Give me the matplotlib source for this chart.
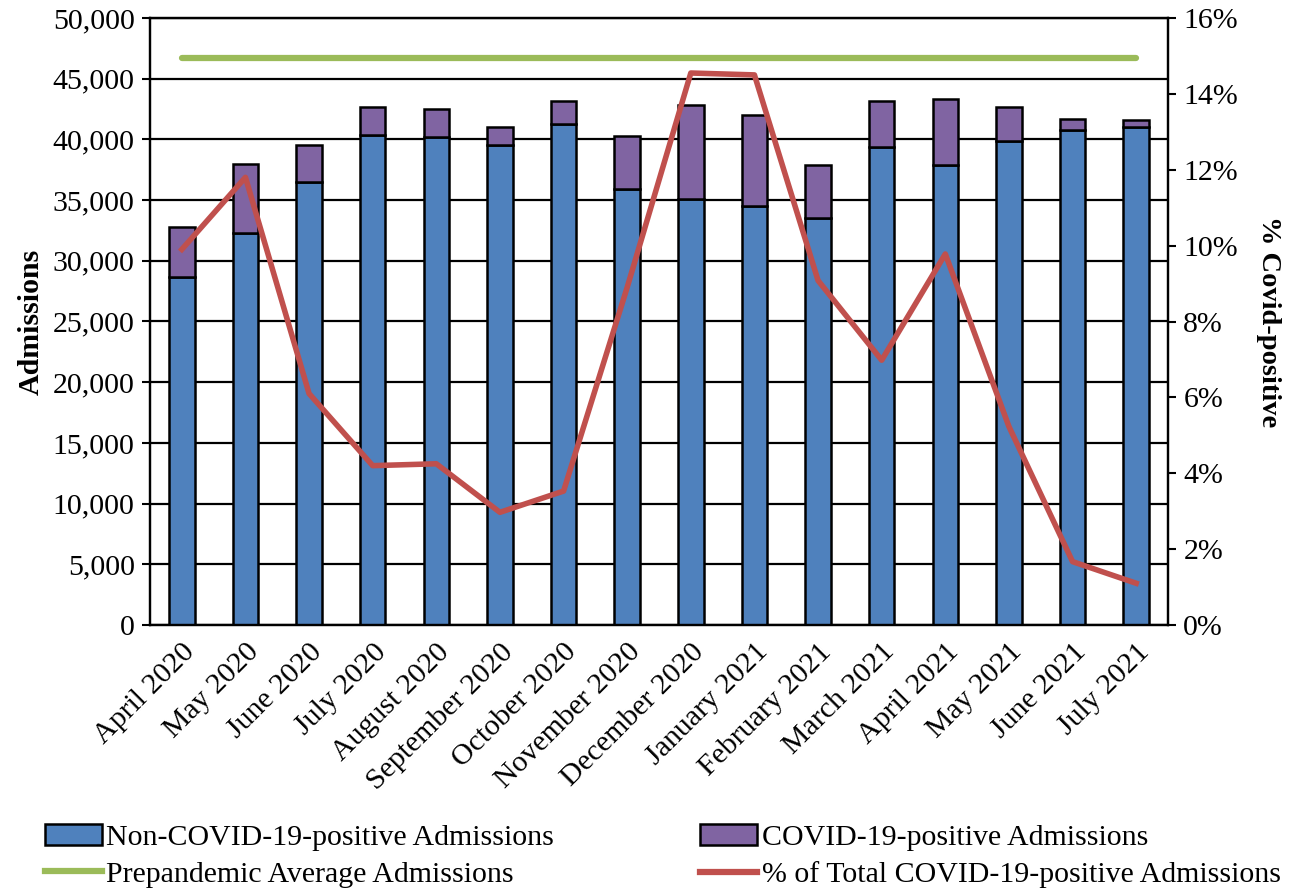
import matplotlib
matplotlib.use("Agg")
import matplotlib.pyplot as plt
from matplotlib.ticker import FuncFormatter, MultipleLocator
from matplotlib.patches import Patch
from matplotlib.lines import Line2D

plt.rcParams['font.family'] = ['Liberation Serif', 'DejaVu Serif']

months = ["April 2020", "May 2020", "June 2020", "July 2020", "August 2020",
          "September 2020", "October 2020", "November 2020", "December 2020",
          "January 2021", "February 2021", "March 2021", "April 2021",
          "May 2021", "June 2021", "July 2021"]
# 非新冠入院 / 总入院
non_covid = [28700, 32300, 36500, 40400, 40200, 39500, 41300, 35900,
             35100, 34500, 33550, 39400, 37900, 39900, 40800, 41050]
total = [32800, 37950, 39500, 42700, 42500, 41000, 43200, 40300,
         42800, 42000, 37900, 43200, 43300, 42700, 41700, 41600]
covid = [t - n for t, n in zip(total, non_covid)]
prepandemic = [46700] * len(months)
pct_covid = [9.9, 11.8, 6.1, 4.2, 4.25, 2.97, 3.53, 8.9,
             14.55, 14.5, 9.08, 6.98, 9.78, 5.23, 1.67, 1.1]

blue = '#4F81BD'
purple = '#8064A2'
green = '#9BBB59'
red = '#C0504D'
fs = 21.5

fig = plt.figure(figsize=(12.97, 8.92), dpi=100)
ax = fig.add_axes([150/1297, 1-625/892, (1168-150)/1297, (625-18)/892])
x = list(range(len(months)))

ax.bar(x, non_covid, width=0.4, color=blue, edgecolor='black', linewidth=1.8, zorder=2)
ax.bar(x, covid, bottom=non_covid, width=0.4, color=purple, edgecolor='black', linewidth=1.8, zorder=2)
ax.plot(x, prepandemic, color=green, linewidth=4.5, solid_capstyle='round', zorder=3)

ax.set_xlim(-0.5, len(months) - 0.5)
ax.set_ylim(0, 50000)
ax.yaxis.set_major_locator(MultipleLocator(5000))
ax.yaxis.set_major_formatter(FuncFormatter(lambda v, p: "{:,.0f}".format(v)))
ax.grid(axis='y', color='black', linewidth=1.6, zorder=0)
ax.set_axisbelow(True)
ax.set_xticks(x)
ax.set_xticklabels(months, rotation=45, ha='right', rotation_mode='anchor', fontsize=fs)
ax.tick_params(axis='x', length=0, pad=10)
ax.tick_params(axis='y', labelsize=fs, direction='out', length=6, width=1.5, pad=5)
ax.set_ylabel("Admissions", fontsize=fs, fontweight='bold', labelpad=6)
for s in ax.spines.values():
    s.set_linewidth(1.6)

ax2 = ax.twinx()
ax2.plot(x, pct_covid, color=red, linewidth=4, zorder=4)
ax2.set_ylim(0, 16)
ax2.yaxis.set_major_locator(MultipleLocator(2))
ax2.yaxis.set_major_formatter(FuncFormatter(lambda v, p: "{:.0f}%".format(v)))
ax2.tick_params(axis='y', labelsize=fs, direction='out', length=6, width=1.5, pad=5)
ax2.set_ylabel("% Covid-positive", fontsize=20.5, fontweight='bold', rotation=270, labelpad=31)
for s in ax2.spines.values():
    s.set_linewidth(1.6)

handles = [
    Patch(facecolor=blue, edgecolor='black', linewidth=1.8),
    Line2D([0], [0], color=green, linewidth=4.5),
    Patch(facecolor=purple, edgecolor='black', linewidth=1.8),
    Line2D([0], [0], color=red, linewidth=4.5),
]
labels = ["Non-COVID-19-positive Admissions", "Prepandemic Average Admissions",
          "COVID-19-positive Admissions", "% of Total COVID-19-positive Admissions"]
fig.legend(handles, labels, loc='lower left', bbox_to_anchor=(45/1297, 4/892), ncol=2,
           frameon=False, fontsize=fs, handlelength=1.9, handletextpad=0.15,
           columnspacing=4.9, labelspacing=0.35, borderpad=0, borderaxespad=0)

fig.savefig("out.png", dpi=100)
